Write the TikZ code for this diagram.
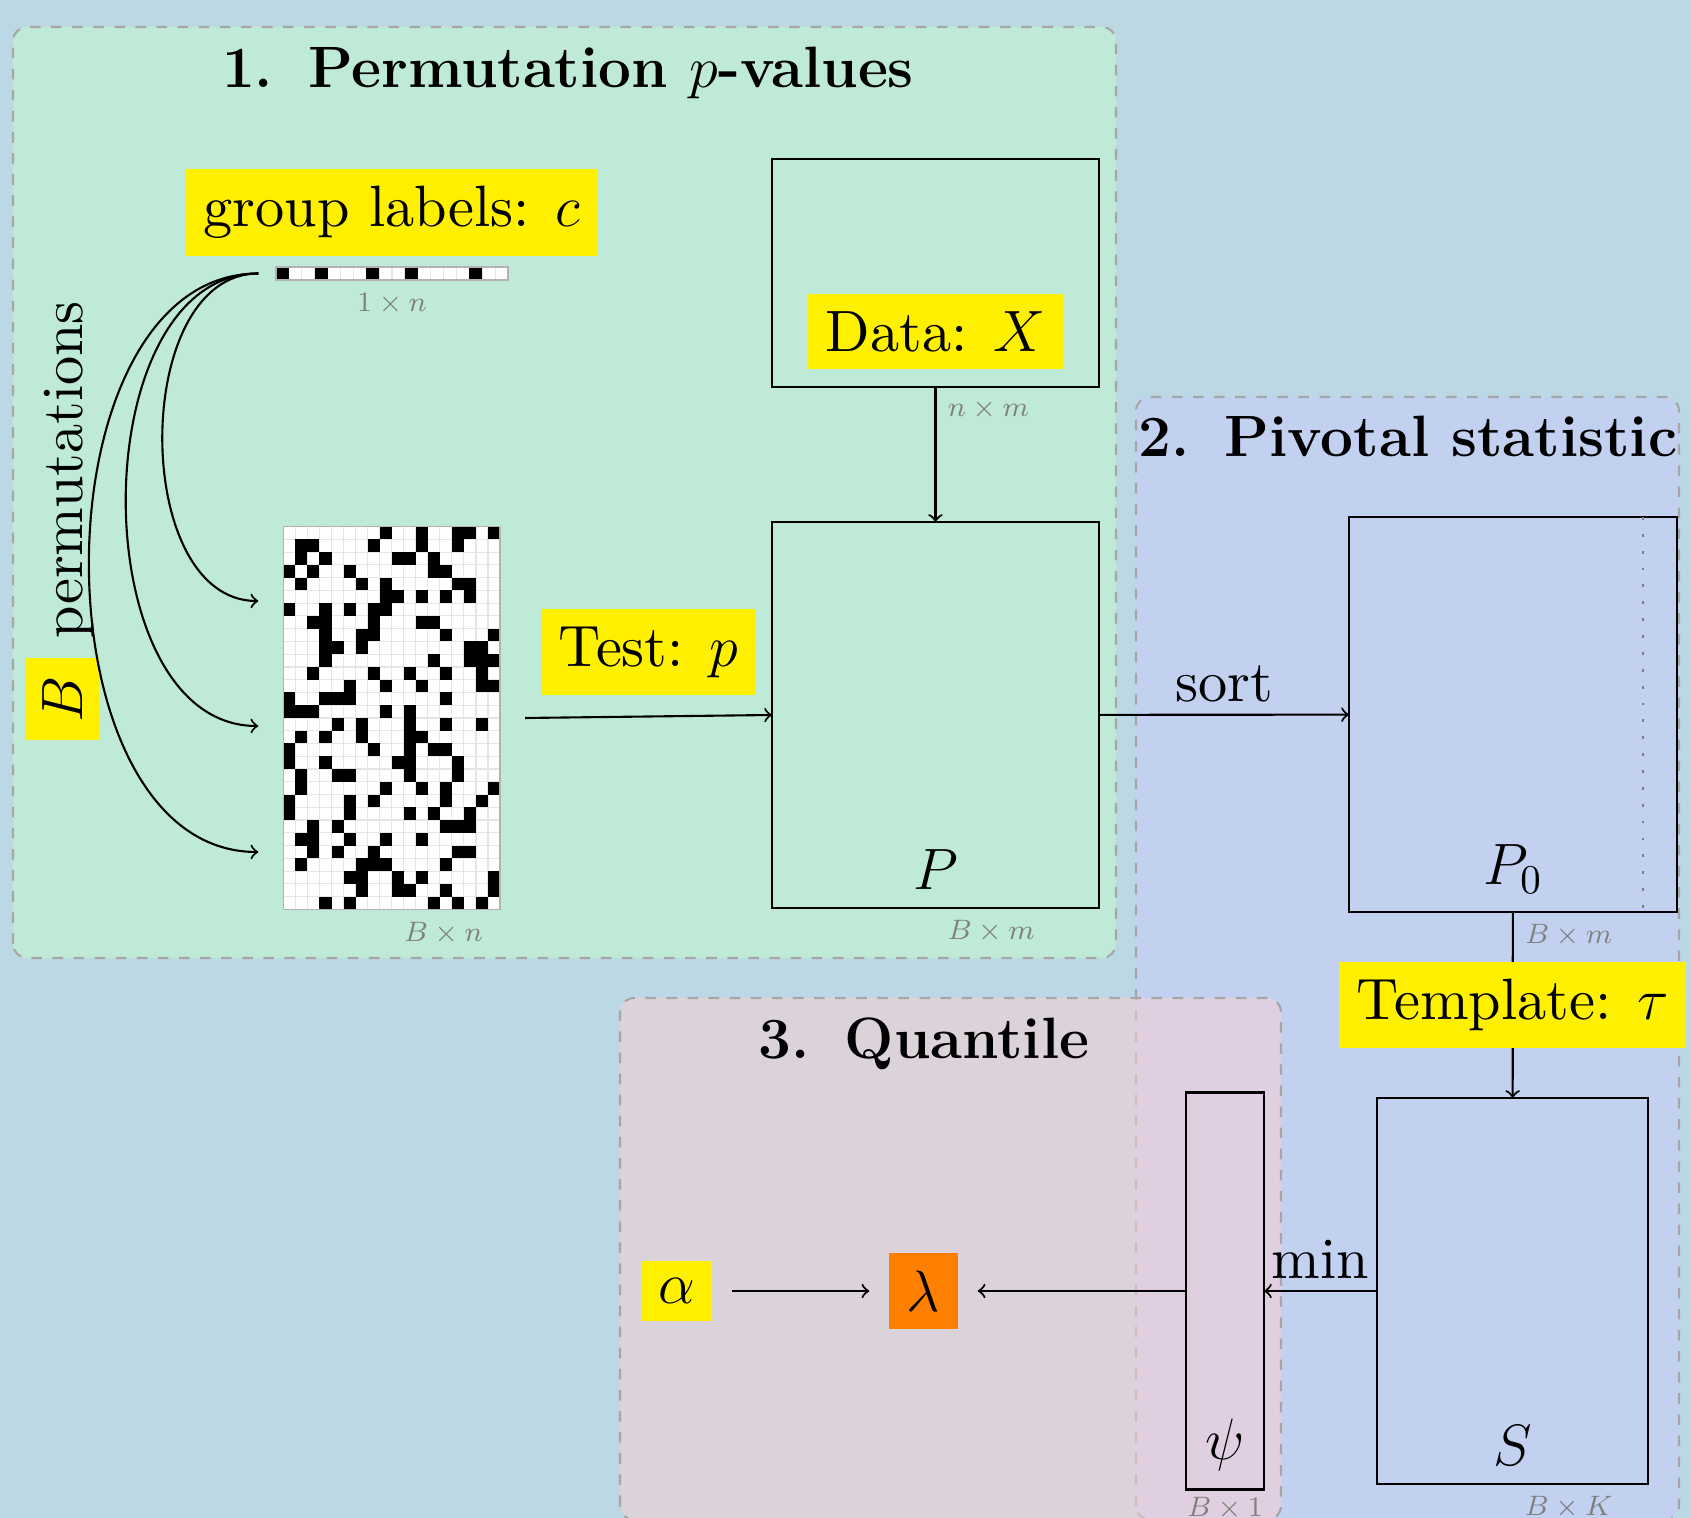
\RequirePackage{fix-cm}
\documentclass[tikz,border=0pt]{standalone}
\usepackage{fontspec}
\setmainfont{lmroman10-regular.otf}[BoldFont=lmroman12-bold.otf, ItalicFont=lmroman10-italic.otf]
\usetikzlibrary{positioning}
\definecolor{bgblue}{RGB}{188,216,228}
\definecolor{regmint}{RGB}{192,234,216}
\definecolor{regblue}{RGB}{195,209,241}
\definecolor{regpink}{RGB}{252,206,208}
\definecolor{hlyellow}{RGB}{255,240,0}
\definecolor{lamorange}{RGB}{255,128,0}
\newcommand{\bigfont}{\fontsize{16.6}{20}\selectfont}
\newcommand{\dimfont}{\fontsize{8}{10}\selectfont}
\begin{document}
\begin{tikzpicture}[
    every node/.style={font=\bigfont},
    region/.style={rounded corners, draw=gray!70, dashed, semithick},
    regtitle/.style={anchor=base, font=\bigfont\bfseries},
    mat/.style={draw, semithick, inner sep=0pt, outer sep=0pt},
    matlab/.style={anchor=south, inner sep=5pt},
    hl/.style={fill=hlyellow, inner sep=5pt},
    dimlab/.style={text=gray, font=\dimfont},
    arr/.style={->, semithick},
    cellgrid/.style={gray!20, line width=0.3pt}]
    \useasboundingbox (0,0) rectangle (16.91,15.18);
    \fill[bgblue] (0,0) rectangle (16.91,15.18);
    % the three stages
    \draw[region, fill=regmint] (0.13,5.60) rectangle (11.16,14.91);
    \draw[region, fill=regblue] (11.36,-0.02) rectangle (16.79,11.21);
    \draw[region, fill=regpink, fill opacity=0.5] (6.20,-0.02) rectangle (12.81,5.20);
    \node[regtitle] (titleone) at (5.68,14.30) {1.\hspace{0.6em}Permutation $p$-values};
    \node[regtitle] (titletwo) at (14.08,10.61) {2.\hspace{0.6em}Pivotal statistic};
    \node[regtitle] (titlethree) at (9.24,4.59) {3.\hspace{0.6em}Quantile};

    % group labels
    \node[minimum width=2.32cm, minimum height=0.133cm, inner sep=0pt] (labelbar) at (3.92,12.445) {};
    \begin{scope}[shift={(labelbar.center)}, x=0.1289cm, y=-0.133cm]
        \fill[white] (-9,-0.5) rectangle (9,0.5);
        \foreach \i in {-8,...,8} \draw[cellgrid] (\i,-0.5) -- (\i,0.5);
        \foreach \c in {0,3,7,10,15} \fill (\c-9,-0.5) rectangle +(1,1);
        \draw[gray!60] (-9,-0.5) rectangle (9,0.5);
    \end{scope}
    \node[hl, above=0.09cm of labelbar] (grouplab) {group labels: $c$};
    \node[dimlab, below] (barsize) at (labelbar.south) {$1\times n$};

    % permuted labels
    \node[minimum width=2.167cm, minimum height=3.826cm, inner sep=0pt, outer xsep=0.25cm] (permgrid) at (3.917,8.00) {};
    \begin{scope}[shift={(permgrid.center)}, x=0.12039cm, y=-0.12753cm]
        \fill[white] (-9,-15) rectangle (9,15);
        \foreach \i in {-8,...,8} \draw[cellgrid] (\i,-15) -- (\i,15);
        \foreach \j in {-14,...,14} \draw[cellgrid] (-9,\j) -- (9,\j);
        \foreach \r/\cs in {0/{8,11,14,15,17}, 1/{1,2,7,11,14}, 2/{1,3,9,10,12},
                3/{0,2,5,12,13}, 4/{1,6,8,14,15}, 5/{8,9,11,13,15}, 6/{0,3,5,7,8},
                7/{2,3,7,11,12}, 8/{3,6,7,13,17}, 9/{3,4,6,15,16}, 10/{3,12,15,16,17},
                11/{2,7,10,13,16}, 12/{5,8,11,16,17}, 13/{0,3,4,5,13}, 14/{0,1,2,8,10},
                15/{4,6,10,13,16}, 16/{1,3,6,10,11}, 17/{0,7,10,12,13}, 18/{0,3,9,10,14},
                19/{1,4,5,10,14}, 20/{1,8,11,13,17}, 21/{0,5,7,13,16}, 22/{0,5,10,12,15},
                23/{2,4,13,14,15}, 24/{1,2,5,8,11}, 25/{2,4,7,14,15}, 26/{1,6,7,8,13},
                27/{5,6,9,11,17}, 28/{6,9,10,13,17}, 29/{3,5,12,14,16}}
            \foreach \c in \cs \fill (\c-9,\r-15) rectangle +(1,1);
        \draw[gray!60] (-9,-15) rectangle (9,15);
    \end{scope}
    \node[dimlab, below right] (gridsize) at (permgrid.south) {$B\times n$};
    \node[rotate=90, anchor=base] (permlab) at (0.82,9.975) {\fboxsep=5pt\colorbox{hlyellow}{$B$} permutations};

    \coordinate (cstart) at ([xshift=-0.17cm]labelbar.west);
    \draw[arr] (cstart) to[out=180,in=180] ([yshift=1.17cm]permgrid.west);
    \draw[arr] (cstart) to[out=180,in=180] ([yshift=-0.08cm]permgrid.west);
    \draw[arr] (cstart) to[out=180,in=180] ([yshift=-1.34cm]permgrid.west);

    % data and p-values
    \node[mat, minimum width=3.27cm, minimum height=2.28cm] (Xmat) at (9.355,12.45) {};
    \node[hl, anchor=south] (datalab) at ([yshift=0.17cm]Xmat.south) {Data: $X$};
    \node[dimlab, below right] (Xsize) at (Xmat.south) {$n\times m$};
    \node[mat, minimum width=3.27cm, minimum height=3.86cm] (Pmat) at (9.355,8.03) {};
    \node[matlab] (Plab) at (Pmat.south) {$P$};
    \node[dimlab, below right] (Psize) at (Pmat.south) {$B\times m$};
    \draw[arr] (Xmat) -- (Pmat);
    \draw[arr] (permgrid.east) -- node[hl, above=0.2cm] (testlab) {Test: $p$} (Pmat.west);

    % pivotal statistic
    \node[mat, minimum width=3.28cm, minimum height=3.95cm] (P0mat) at (15.13,8.035) {};
    \node[matlab] (P0lab) at (P0mat.south) {$P_0$};
    \node[dimlab, below right] (P0size) at (P0mat.south) {$B\times m$};
    \draw[gray, loosely dotted, thick] ([xshift=-0.34cm]P0mat.north east) -- ([xshift=-0.34cm]P0mat.south east);
    \node[mat, minimum width=2.71cm, minimum height=3.86cm] (Smat) at (15.125,2.27) {};
    \node[matlab] (Slab) at (Smat.south) {$S$};
    \node[dimlab, below right] (Ssize) at (Smat.south) {$B\times K$};
    \draw[arr] (Pmat) -- node[above] (sortlab) {sort} (P0mat);
    \draw[arr] (P0mat) -- node[hl] (tpllab) {Template: $\tau$} (Smat);

    % quantile
    \node[mat, minimum width=0.78cm, minimum height=3.97cm] (psimat) at (12.25,2.27) {};
    \node[matlab] (psilab) at (psimat.south) {$\psi$};
    \node[dimlab, below, inner sep=2pt] (psisize) at (psimat.south) {$B\times 1$};
    \node[hl, outer sep=0.2cm] (alphanode) at (6.765,2.27) {$\alpha$};
    \node[fill=lamorange, inner sep=5pt, outer sep=0.2cm] (lambdanode) at (9.235,2.27) {$\lambda$};
    \draw[arr] (Smat) -- node[above] (minlab) {min} (psimat);
    \draw[arr] (psimat) -- (lambdanode);
    \draw[arr] (alphanode) -- (lambdanode);
\end{tikzpicture}
\end{document}
